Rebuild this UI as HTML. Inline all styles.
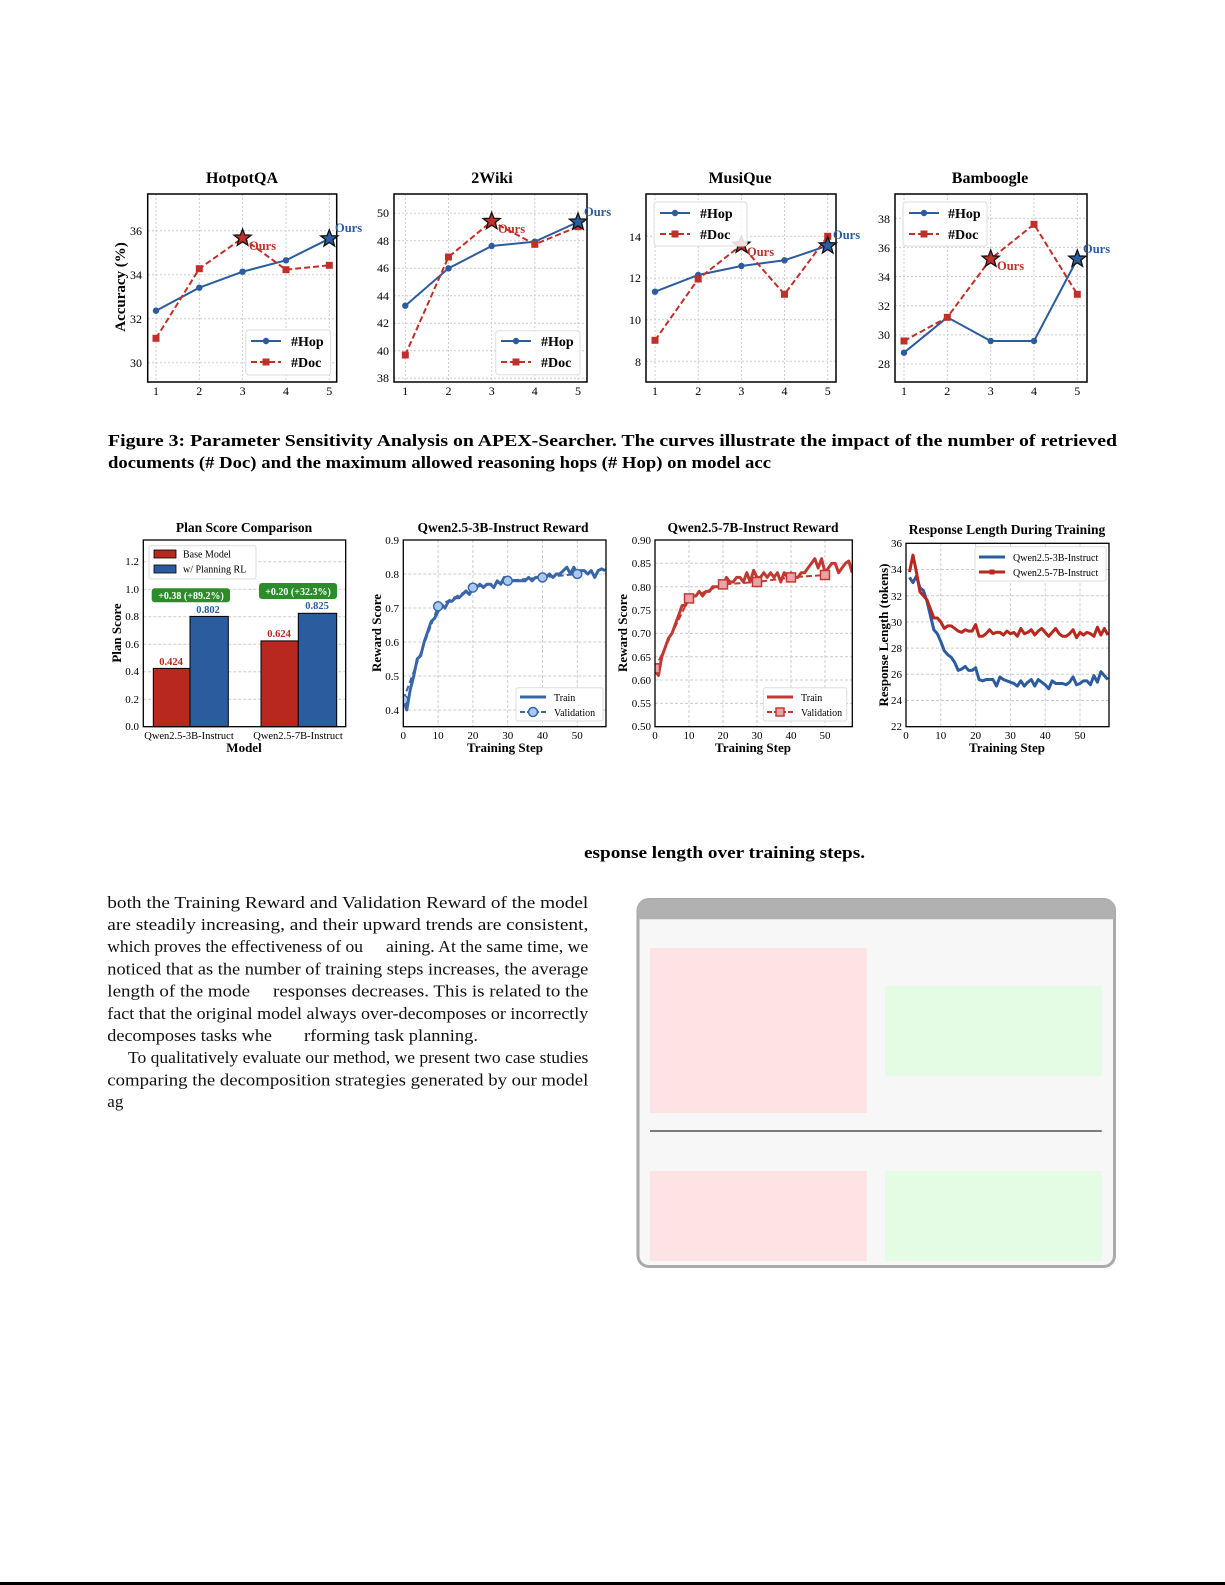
<!DOCTYPE html>
<html><head><meta charset="utf-8">
<style>
html,body{margin:0;padding:0;background:#fff;}
svg{display:block;}
text{font-family:"Liberation Serif",serif;}
</style></head>
<body>
<svg width="1225" height="1585" viewBox="0 0 1225 1585" xmlns="http://www.w3.org/2000/svg">
<defs>
<path id="star" d="M0,-9 L2.23,-3.07 L8.56,-2.78 L3.61,1.17 L5.29,7.28 L0,3.8 L-5.29,7.28 L-3.61,1.17 L-8.56,-2.78 L-2.23,-3.07Z"/>
<clipPath id="c3b"><rect x="403.3" y="540" width="203" height="186.7"/></clipPath>
<clipPath id="c7b"><rect x="655" y="540" width="197.3" height="186.7"/></clipPath>
<clipPath id="crl"><rect x="906" y="543.3" width="203" height="183.4"/></clipPath>
</defs>

<g font-size="12" fill="#000">
<text x="242" y="183" font-size="16" font-weight="bold" text-anchor="middle">HotpotQA</text>
<g stroke="#ccc" stroke-dasharray="2,2" stroke-width="1">
<line x1="156" y1="194" x2="156" y2="382"/><line x1="199.3" y1="194" x2="199.3" y2="382"/><line x1="242.6" y1="194" x2="242.6" y2="382"/><line x1="286" y1="194" x2="286" y2="382"/><line x1="329.3" y1="194" x2="329.3" y2="382"/>
<line x1="148" y1="362.7" x2="337" y2="362.7"/><line x1="148" y1="318.7" x2="337" y2="318.7"/><line x1="148" y1="274.7" x2="337" y2="274.7"/><line x1="148" y1="230.7" x2="337" y2="230.7"/>
</g>
<rect x="147.7" y="194" width="189" height="188" fill="none" stroke="#000" stroke-width="1.5"/>
<g text-anchor="end"><text x="142" y="367">30</text><text x="142" y="323">32</text><text x="142" y="279">34</text><text x="142" y="235">36</text></g>
<g text-anchor="middle"><text x="156" y="395">1</text><text x="199.3" y="395">2</text><text x="242.6" y="395">3</text><text x="286" y="395">4</text><text x="329.3" y="395">5</text></g>
<polyline points="156,310.7 199.3,287.7 242.6,271.7 286,260.3 329.3,238.7" fill="none" stroke="#2b5c9e" stroke-width="2"/>
<polyline points="156,338.3 199.3,268.7 242.6,238 286,269.7 329.3,265.3" fill="none" stroke="#c03028" stroke-width="2" stroke-dasharray="6,3"/>
<g fill="#2b5c9e"><circle cx="156" cy="310.7" r="3.2"/><circle cx="199.3" cy="287.7" r="3.2"/><circle cx="242.6" cy="271.7" r="3.2"/><circle cx="286" cy="260.3" r="3.2"/></g>
<g fill="#c03028"><rect x="152.5" y="334.8" width="7" height="7"/><rect x="195.8" y="265.2" width="7" height="7"/><rect x="282.5" y="266.2" width="7" height="7"/><rect x="325.8" y="261.8" width="7" height="7"/></g>
<use href="#star" x="242.6" y="238" fill="#c03028" stroke="#111" stroke-width="1.3"/>
<use href="#star" x="329.3" y="238.7" fill="#2b5c9e" stroke="#111" stroke-width="1.3"/>
<text x="249" y="250" font-weight="bold" fill="#c03028" font-size="12.5">Ours</text>
<text x="335" y="232" font-weight="bold" fill="#2b5c9e" font-size="12.5">Ours</text>
<rect x="245.7" y="330" width="85" height="45" rx="3" fill="#fff" fill-opacity="0.85" stroke="#ddd"/>
<line x1="251" y1="341" x2="281" y2="341" stroke="#2b5c9e" stroke-width="2"/><circle cx="266" cy="341" r="3.2" fill="#2b5c9e"/>
<line x1="251" y1="362" x2="281" y2="362" stroke="#c03028" stroke-width="2" stroke-dasharray="6,3"/><rect x="262.5" y="358.5" width="7" height="7" fill="#c03028"/>
<text x="291" y="346" font-weight="bold" font-size="14">#Hop</text><text x="291" y="367" font-weight="bold" font-size="14">#Doc</text>
<text transform="translate(125,287) rotate(-90)" text-anchor="middle" font-weight="bold" font-size="15">Accuracy (%)</text>

<text x="492" y="183" font-size="16" font-weight="bold" text-anchor="middle">2Wiki</text>
<g stroke="#ccc" stroke-dasharray="2,2" stroke-width="1">
<line x1="405.3" y1="194" x2="405.3" y2="382"/><line x1="448.5" y1="194" x2="448.5" y2="382"/><line x1="491.7" y1="194" x2="491.7" y2="382"/><line x1="534.8" y1="194" x2="534.8" y2="382"/><line x1="578" y1="194" x2="578" y2="382"/>
<line x1="394" y1="378.3" x2="587" y2="378.3"/><line x1="394" y1="350.8" x2="587" y2="350.8"/><line x1="394" y1="323.3" x2="587" y2="323.3"/><line x1="394" y1="295.8" x2="587" y2="295.8"/><line x1="394" y1="268.3" x2="587" y2="268.3"/><line x1="394" y1="240.8" x2="587" y2="240.8"/><line x1="394" y1="213.3" x2="587" y2="213.3"/>
</g>
<rect x="394" y="194" width="193" height="188" fill="none" stroke="#000" stroke-width="1.5"/>
<g text-anchor="end"><text x="389" y="382">38</text><text x="389" y="355">40</text><text x="389" y="327">42</text><text x="389" y="300">44</text><text x="389" y="272">46</text><text x="389" y="245">48</text><text x="389" y="217">50</text></g>
<g text-anchor="middle"><text x="405.3" y="395">1</text><text x="448.5" y="395">2</text><text x="491.7" y="395">3</text><text x="534.8" y="395">4</text><text x="578" y="395">5</text></g>
<polyline points="405.3,305.7 448.5,268.3 491.7,246 534.8,241.7 578,222" fill="none" stroke="#2b5c9e" stroke-width="2"/>
<polyline points="405.3,355 448.5,257 491.7,221.3 534.8,244.3 578,226.7" fill="none" stroke="#c03028" stroke-width="2" stroke-dasharray="6,3"/>
<g fill="#2b5c9e"><circle cx="405.3" cy="305.7" r="3.2"/><circle cx="448.5" cy="268.3" r="3.2"/><circle cx="491.7" cy="246" r="3.2"/><circle cx="534.8" cy="241.7" r="3.2"/></g>
<g fill="#c03028"><rect x="401.8" y="351.5" width="7" height="7"/><rect x="445" y="253.5" width="7" height="7"/><rect x="531.3" y="240.8" width="7" height="7"/><rect x="574.5" y="223.2" width="7" height="7"/></g>
<use href="#star" x="491.7" y="221.3" fill="#c03028" stroke="#111" stroke-width="1.3"/>
<use href="#star" x="578" y="222" fill="#2b5c9e" stroke="#111" stroke-width="1.3"/>
<text x="498" y="233" font-weight="bold" fill="#c03028" font-size="12.5">Ours</text>
<text x="584" y="216" font-weight="bold" fill="#2b5c9e" font-size="12.5">Ours</text>
<rect x="495.7" y="330.7" width="84.3" height="44" rx="3" fill="#fff" fill-opacity="0.85" stroke="#ddd"/>
<line x1="501" y1="341" x2="531" y2="341" stroke="#2b5c9e" stroke-width="2"/><circle cx="516" cy="341" r="3.2" fill="#2b5c9e"/>
<line x1="501" y1="362" x2="531" y2="362" stroke="#c03028" stroke-width="2" stroke-dasharray="6,3"/><rect x="512.5" y="358.5" width="7" height="7" fill="#c03028"/>
<text x="541" y="346" font-weight="bold" font-size="14">#Hop</text><text x="541" y="367" font-weight="bold" font-size="14">#Doc</text>

<text x="740" y="183" font-size="16" font-weight="bold" text-anchor="middle">MusiQue</text>
<g stroke="#ccc" stroke-dasharray="2,2" stroke-width="1">
<line x1="655" y1="194" x2="655" y2="382"/><line x1="698.2" y1="194" x2="698.2" y2="382"/><line x1="741.4" y1="194" x2="741.4" y2="382"/><line x1="784.5" y1="194" x2="784.5" y2="382"/><line x1="827.7" y1="194" x2="827.7" y2="382"/>
<line x1="646" y1="361.3" x2="836" y2="361.3"/><line x1="646" y1="319.7" x2="836" y2="319.7"/><line x1="646" y1="278" x2="836" y2="278"/><line x1="646" y1="236.3" x2="836" y2="236.3"/>
</g>
<rect x="646" y="194" width="190" height="188" fill="none" stroke="#000" stroke-width="1.5"/>
<g text-anchor="end"><text x="641" y="366">8</text><text x="641" y="324">10</text><text x="641" y="282">12</text><text x="641" y="241">14</text></g>
<g text-anchor="middle"><text x="655" y="395">1</text><text x="698.2" y="395">2</text><text x="741.4" y="395">3</text><text x="784.5" y="395">4</text><text x="827.7" y="395">5</text></g>
<polyline points="655,291.7 698.2,275 741.4,266 784.5,260.3 827.7,245.7" fill="none" stroke="#2b5c9e" stroke-width="2"/>
<polyline points="655,340.3 698.2,279 741.4,245 784.5,294.3 827.7,236.3" fill="none" stroke="#c03028" stroke-width="2" stroke-dasharray="6,3"/>
<g fill="#2b5c9e"><circle cx="655" cy="291.7" r="3.2"/><circle cx="698.2" cy="275" r="3.2"/><circle cx="741.4" cy="266" r="3.2"/><circle cx="784.5" cy="260.3" r="3.2"/></g>
<g fill="#c03028"><rect x="651.5" y="336.8" width="7" height="7"/><rect x="694.7" y="275.5" width="7" height="7"/><rect x="781" y="290.8" width="7" height="7"/><rect x="824.2" y="232.8" width="7" height="7"/></g>
<use href="#star" x="741.4" y="245" fill="#c03028" stroke="#111" stroke-width="1.3"/>
<use href="#star" x="827.7" y="245.7" fill="#2b5c9e" stroke="#111" stroke-width="1.3"/>
<text x="747" y="256" font-weight="bold" fill="#c03028" font-size="12.5">Ours</text>
<text x="833" y="239" font-weight="bold" fill="#2b5c9e" font-size="12.5">Ours</text>
<rect x="654" y="202" width="93" height="44" rx="3" fill="#fff" fill-opacity="0.85" stroke="#ddd"/>
<line x1="660" y1="213" x2="690" y2="213" stroke="#2b5c9e" stroke-width="2"/><circle cx="675" cy="213" r="3.2" fill="#2b5c9e"/>
<line x1="660" y1="234" x2="690" y2="234" stroke="#c03028" stroke-width="2" stroke-dasharray="6,3"/><rect x="671.5" y="230.5" width="7" height="7" fill="#c03028"/>
<text x="700" y="218" font-weight="bold" font-size="14">#Hop</text><text x="700" y="239" font-weight="bold" font-size="14">#Doc</text>

<text x="990" y="183" font-size="16" font-weight="bold" text-anchor="middle">Bamboogle</text>
<g stroke="#ccc" stroke-dasharray="2,2" stroke-width="1">
<line x1="904" y1="194" x2="904" y2="382"/><line x1="947.3" y1="194" x2="947.3" y2="382"/><line x1="990.7" y1="194" x2="990.7" y2="382"/><line x1="1034" y1="194" x2="1034" y2="382"/><line x1="1077.3" y1="194" x2="1077.3" y2="382"/>
<line x1="895" y1="364" x2="1087" y2="364"/><line x1="895" y1="334.9" x2="1087" y2="334.9"/><line x1="895" y1="305.7" x2="1087" y2="305.7"/><line x1="895" y1="276.6" x2="1087" y2="276.6"/><line x1="895" y1="247.4" x2="1087" y2="247.4"/><line x1="895" y1="218.3" x2="1087" y2="218.3"/>
</g>
<rect x="895" y="194" width="192" height="188" fill="none" stroke="#000" stroke-width="1.5"/>
<g text-anchor="end"><text x="890" y="368">28</text><text x="890" y="339">30</text><text x="890" y="310">32</text><text x="890" y="281">34</text><text x="890" y="252">36</text><text x="890" y="223">38</text></g>
<g text-anchor="middle"><text x="904" y="395">1</text><text x="947.3" y="395">2</text><text x="990.7" y="395">3</text><text x="1034" y="395">4</text><text x="1077.3" y="395">5</text></g>
<polyline points="904,352.7 947.3,317.3 990.7,341 1034,341 1077.3,259" fill="none" stroke="#2b5c9e" stroke-width="2"/>
<polyline points="904,341 947.3,317.3 990.7,259 1034,224.3 1077.3,294.3" fill="none" stroke="#c03028" stroke-width="2" stroke-dasharray="6,3"/>
<g fill="#2b5c9e"><circle cx="904" cy="352.7" r="3.2"/><circle cx="947.3" cy="317.3" r="3.2"/><circle cx="990.7" cy="341" r="3.2"/><circle cx="1034" cy="341" r="3.2"/></g>
<g fill="#c03028"><rect x="900.5" y="337.5" width="7" height="7"/><rect x="943.8" y="313.8" width="7" height="7"/><rect x="1030.5" y="220.8" width="7" height="7"/><rect x="1073.8" y="290.8" width="7" height="7"/></g>
<use href="#star" x="990.7" y="259" fill="#c03028" stroke="#111" stroke-width="1.3"/>
<use href="#star" x="1077.3" y="259" fill="#2b5c9e" stroke="#111" stroke-width="1.3"/>
<text x="997" y="270" font-weight="bold" fill="#c03028" font-size="12.5">Ours</text>
<text x="1083" y="253" font-weight="bold" fill="#2b5c9e" font-size="12.5">Ours</text>
<rect x="903" y="202" width="84" height="44" rx="3" fill="#fff" fill-opacity="0.85" stroke="#ddd"/>
<line x1="909" y1="213" x2="939" y2="213" stroke="#2b5c9e" stroke-width="2"/><circle cx="924" cy="213" r="3.2" fill="#2b5c9e"/>
<line x1="909" y1="234" x2="939" y2="234" stroke="#c03028" stroke-width="2" stroke-dasharray="6,3"/><rect x="920.5" y="230.5" width="7" height="7" fill="#c03028"/>
<text x="948" y="218" font-weight="bold" font-size="14">#Hop</text><text x="948" y="239" font-weight="bold" font-size="14">#Doc</text>
</g>

<g font-weight="bold" font-size="17">
<text x="108" y="446" textLength="1009" lengthAdjust="spacingAndGlyphs">Figure 3: Parameter Sensitivity Analysis on APEX-Searcher. The curves illustrate the impact of the number of retrieved</text>
<text x="108" y="468" textLength="663" lengthAdjust="spacingAndGlyphs">documents (# Doc) and the maximum allowed reasoning hops (# Hop) on model acc</text>
<text x="584" y="858" textLength="281" lengthAdjust="spacingAndGlyphs">esponse length over training steps.</text>
</g>

<g font-size="11" fill="#000">
<text x="244" y="532" font-size="13.5" font-weight="bold" text-anchor="middle">Plan Score Comparison</text>
<g stroke="#ccc" stroke-dasharray="3,2" stroke-width="1">
<line x1="143.3" y1="699.2" x2="345.7" y2="699.2"/><line x1="143.3" y1="671.7" x2="345.7" y2="671.7"/><line x1="143.3" y1="644.2" x2="345.7" y2="644.2"/><line x1="143.3" y1="616.7" x2="345.7" y2="616.7"/><line x1="143.3" y1="589.2" x2="345.7" y2="589.2"/><line x1="143.3" y1="561.7" x2="345.7" y2="561.7"/>
</g>
<rect x="153.3" y="668.4" width="36.7" height="58.3" fill="#b8281f" stroke="#000" stroke-width="1"/>
<rect x="190" y="616.4" width="38.3" height="110.3" fill="#2b5c9e" stroke="#000" stroke-width="1"/>
<rect x="261" y="640.9" width="37.3" height="85.8" fill="#b8281f" stroke="#000" stroke-width="1"/>
<rect x="298.3" y="613.3" width="38.4" height="113.4" fill="#2b5c9e" stroke="#000" stroke-width="1"/>
<rect x="143.3" y="540" width="202.4" height="186.7" fill="none" stroke="#000" stroke-width="1.3"/>
<g text-anchor="end"><text x="139" y="730">0.0</text><text x="139" y="703">0.2</text><text x="139" y="675">0.4</text><text x="139" y="648">0.6</text><text x="139" y="620">0.8</text><text x="139" y="593">1.0</text><text x="139" y="565">1.2</text></g>
<g font-weight="bold" text-anchor="middle" font-size="10.5">
<text x="171" y="665" fill="#b8281f">0.424</text><text x="208" y="613" fill="#2b5c9e">0.802</text>
<text x="279" y="637" fill="#b8281f">0.624</text><text x="317" y="609" fill="#2b5c9e">0.825</text>
</g>
<rect x="151.7" y="588.3" width="78.3" height="14" rx="3" fill="#2a8c2a"/>
<text x="191" y="599" fill="#fff" font-weight="bold" font-size="10" text-anchor="middle">+0.38 (+89.2%)</text>
<rect x="259" y="583" width="78" height="16" rx="3" fill="#2a8c2a"/>
<text x="298" y="595" fill="#fff" font-weight="bold" font-size="10" text-anchor="middle">+0.20 (+32.3%)</text>
<rect x="149" y="545.7" width="107" height="33.3" rx="2" fill="#fff" stroke="#ddd"/>
<rect x="154" y="550" width="22" height="8" fill="#b8281f" stroke="#000" stroke-width=".8"/><text x="183" y="557.5" font-size="10">Base Model</text>
<rect x="154" y="565" width="22" height="8" fill="#2b5c9e" stroke="#000" stroke-width=".8"/><text x="183" y="572.5" font-size="10">w/ Planning RL</text>
<text x="189" y="739" text-anchor="middle" font-size="10.5">Qwen2.5-3B-Instruct</text>
<text x="298" y="739" text-anchor="middle" font-size="10.5">Qwen2.5-7B-Instruct</text>
<text x="244" y="752" text-anchor="middle" font-size="13" font-weight="bold">Model</text>
<text transform="translate(121,633) rotate(-90)" text-anchor="middle" font-size="13" font-weight="bold">Plan Score</text>

<text x="503" y="532" font-size="13.5" font-weight="bold" text-anchor="middle">Qwen2.5-3B-Instruct Reward</text>
<g stroke="#ccc" stroke-dasharray="3,2" stroke-width="1">
<line x1="438.1" y1="540" x2="438.1" y2="726.7"/><line x1="472.9" y1="540" x2="472.9" y2="726.7"/><line x1="507.7" y1="540" x2="507.7" y2="726.7"/><line x1="542.5" y1="540" x2="542.5" y2="726.7"/><line x1="577.3" y1="540" x2="577.3" y2="726.7"/>
<line x1="403.3" y1="710" x2="606" y2="710"/><line x1="403.3" y1="676" x2="606" y2="676"/><line x1="403.3" y1="642" x2="606" y2="642"/><line x1="403.3" y1="608" x2="606" y2="608"/><line x1="403.3" y1="574" x2="606" y2="574"/>
</g>
<g clip-path="url(#c3b)">
<g transform="matrix(3.48 0 0 -340 403.3 846)">
<polyline vector-effect="non-scaling-stroke" fill="none" stroke="#3a66a8" stroke-width="3" stroke-linejoin="round" points="0,0.43 1,0.40 2,0.46 3,0.50 4,0.55 5,0.56 6,0.60 7,0.63 8,0.66 9,0.67 10,0.69 11,0.71 12,0.70 13,0.72 14,0.72 15,0.73 16,0.73 17,0.74 18,0.75 19,0.74 20,0.76 21,0.76 22,0.77 23,0.76 24,0.77 25,0.77 26,0.76 27,0.78 28,0.77 29,0.79 30,0.77 31,0.78 32,0.78 33,0.78 34,0.78 35,0.78 36,0.79 37,0.78 38,0.79 39,0.79 40,0.79 41,0.79 42,0.80 43,0.79 44,0.80 45,0.80 46,0.81 47,0.82 48,0.80 49,0.82 50,0.80 51,0.81 52,0.81 53,0.80 54,0.81 55,0.79 56,0.81 57,0.815 58,0.81"/>
</g>
<polyline fill="none" stroke="#3a66a8" stroke-width="2" stroke-dasharray="6,3" points="403.3,699.8 438.1,606.3 472.9,587.6 507.7,580.8 542.5,577.4 577.3,574"/>
<g fill="#a9c9ee" stroke="#3a66a8" stroke-width="1.5"><circle cx="403.3" cy="699.8" r="4.5"/><circle cx="438.1" cy="606.3" r="4.5"/><circle cx="472.9" cy="587.6" r="4.5"/><circle cx="507.7" cy="580.8" r="4.5"/><circle cx="542.5" cy="577.4" r="4.5"/><circle cx="577.3" cy="574" r="4.5"/></g>
</g>
<rect x="403.3" y="540" width="202.7" height="186.7" fill="none" stroke="#000" stroke-width="1.3"/>
<g text-anchor="end"><text x="399" y="714">0.4</text><text x="399" y="680">0.5</text><text x="399" y="646">0.6</text><text x="399" y="612">0.7</text><text x="399" y="578">0.8</text><text x="399" y="544">0.9</text></g>
<g text-anchor="middle"><text x="403.3" y="739">0</text><text x="438.1" y="739">10</text><text x="472.9" y="739">20</text><text x="507.7" y="739">30</text><text x="542.5" y="739">40</text><text x="577.3" y="739">50</text></g>
<rect x="516" y="687.7" width="87" height="33.3" rx="2" fill="#fff" stroke="#ddd"/>
<line x1="520" y1="697" x2="546" y2="697" stroke="#3a66a8" stroke-width="3"/><text x="554" y="701" font-size="10">Train</text>
<line x1="520" y1="712" x2="546" y2="712" stroke="#3a66a8" stroke-width="2" stroke-dasharray="5,2"/><circle cx="533" cy="712" r="4.5" fill="#a9c9ee" stroke="#3a66a8" stroke-width="1.5"/><text x="554" y="716" font-size="10">Validation</text>
<text x="505" y="752" text-anchor="middle" font-size="13" font-weight="bold">Training Step</text>
<text transform="translate(381,633) rotate(-90)" text-anchor="middle" font-size="13" font-weight="bold">Reward Score</text>

<text x="753" y="532" font-size="13.5" font-weight="bold" text-anchor="middle">Qwen2.5-7B-Instruct Reward</text>
<g stroke="#ccc" stroke-dasharray="3,2" stroke-width="1">
<line x1="689" y1="540" x2="689" y2="726.7"/><line x1="723" y1="540" x2="723" y2="726.7"/><line x1="757" y1="540" x2="757" y2="726.7"/><line x1="791" y1="540" x2="791" y2="726.7"/><line x1="825" y1="540" x2="825" y2="726.7"/>
<line x1="655" y1="703.4" x2="852.3" y2="703.4"/><line x1="655" y1="680" x2="852.3" y2="680"/><line x1="655" y1="656.7" x2="852.3" y2="656.7"/><line x1="655" y1="633.4" x2="852.3" y2="633.4"/><line x1="655" y1="610" x2="852.3" y2="610"/><line x1="655" y1="586.7" x2="852.3" y2="586.7"/><line x1="655" y1="563.3" x2="852.3" y2="563.3"/>
</g>
<g clip-path="url(#c7b)">
<g transform="matrix(3.4 0 0 -466.75 655 960.1)">
<polyline vector-effect="non-scaling-stroke" fill="none" stroke="#c03a33" stroke-width="3" stroke-linejoin="round" points="0,0.62 1,0.61 2,0.65 3,0.67 4,0.69 5,0.70 6,0.72 7,0.74 8,0.76 9,0.76 10,0.78 11,0.78 12,0.78 13,0.79 14,0.78 15,0.79 16,0.79 17,0.80 18,0.80 19,0.80 20,0.80 21,0.82 22,0.81 23,0.81 24,0.82 25,0.82 26,0.81 27,0.83 28,0.81 29,0.835 30,0.82 31,0.82 32,0.83 33,0.82 34,0.83 35,0.82 36,0.83 37,0.81 38,0.83 39,0.82 40,0.83 41,0.82 42,0.82 43,0.83 44,0.83 45,0.84 46,0.85 47,0.86 48,0.84 49,0.86 50,0.83 51,0.84 52,0.85 53,0.85 54,0.83 55,0.84 56,0.85 57,0.855 58,0.83"/>
</g>
<polyline fill="none" stroke="#c03a33" stroke-width="2" stroke-dasharray="6,3" points="655,668.4 689,598.4 723,584.4 757,582 791,577.4 825,575"/>
<g fill="#eaa3a6" stroke="#c03a33" stroke-width="1.5"><rect x="650.5" y="663.9" width="9" height="9"/><rect x="684.5" y="593.9" width="9" height="9"/><rect x="718.5" y="579.9" width="9" height="9"/><rect x="752.5" y="577.5" width="9" height="9"/><rect x="786.5" y="572.9" width="9" height="9"/><rect x="820.5" y="570.5" width="9" height="9"/></g>
</g>
<rect x="655" y="540" width="197.3" height="186.7" fill="none" stroke="#000" stroke-width="1.3"/>
<g text-anchor="end"><text x="651" y="730">0.50</text><text x="651" y="707">0.55</text><text x="651" y="684">0.60</text><text x="651" y="661">0.65</text><text x="651" y="637">0.70</text><text x="651" y="614">0.75</text><text x="651" y="591">0.80</text><text x="651" y="567">0.85</text><text x="651" y="544">0.90</text></g>
<g text-anchor="middle"><text x="655" y="739">0</text><text x="689" y="739">10</text><text x="723" y="739">20</text><text x="757" y="739">30</text><text x="791" y="739">40</text><text x="825" y="739">50</text></g>
<rect x="763.3" y="687.7" width="83.4" height="33.3" rx="2" fill="#fff" stroke="#ddd"/>
<line x1="767" y1="697" x2="793" y2="697" stroke="#c03a33" stroke-width="3"/><text x="801" y="701" font-size="10">Train</text>
<line x1="767" y1="712" x2="793" y2="712" stroke="#c03a33" stroke-width="2" stroke-dasharray="5,2"/><rect x="776" y="708" width="8" height="8" fill="#eaa3a6" stroke="#c03a33" stroke-width="1.5"/><text x="801" y="716" font-size="10">Validation</text>
<text x="753" y="752" text-anchor="middle" font-size="13" font-weight="bold">Training Step</text>
<text transform="translate(627,633) rotate(-90)" text-anchor="middle" font-size="13" font-weight="bold">Reward Score</text>

<text x="1007" y="534" font-size="13.5" font-weight="bold" text-anchor="middle">Response Length During Training</text>
<g stroke="#ccc" stroke-dasharray="3,2" stroke-width="1">
<line x1="940.8" y1="543.3" x2="940.8" y2="726.7"/><line x1="975.6" y1="543.3" x2="975.6" y2="726.7"/><line x1="1010.4" y1="543.3" x2="1010.4" y2="726.7"/><line x1="1045.2" y1="543.3" x2="1045.2" y2="726.7"/><line x1="1080" y1="543.3" x2="1080" y2="726.7"/>
<line x1="906" y1="700.5" x2="1109" y2="700.5"/><line x1="906" y1="674.3" x2="1109" y2="674.3"/><line x1="906" y1="648.1" x2="1109" y2="648.1"/><line x1="906" y1="621.9" x2="1109" y2="621.9"/><line x1="906" y1="595.7" x2="1109" y2="595.7"/><line x1="906" y1="569.5" x2="1109" y2="569.5"/>
</g>
<g clip-path="url(#crl)">
<g transform="matrix(3.48 0 0 -13.1 906 1014.9)">
<polyline vector-effect="non-scaling-stroke" fill="none" stroke="#2b5c9e" stroke-width="3" stroke-linejoin="round" points="1,33.4 2,33.0 3,33.5 4,32.6 5,32.4 6,31.6 7,30.5 8,29.4 9,29.1 10,28.5 11,27.8 12,27.5 13,27.3 14,26.9 15,26.3 16,26.4 17,26.6 18,26.3 19,26.3 20,26.5 21,25.6 22,25.5 23,25.6 24,25.6 25,25.6 26,25.1 27,25.8 28,25.6 29,25.5 30,25.4 31,25.3 32,25.1 33,25.5 34,25.1 35,25.4 36,25.6 37,25.1 38,25.6 39,25.4 40,25.2 41,24.9 42,25.5 43,25.3 44,25.3 45,25.3 46,25.2 47,25.4 48,25.8 49,25.2 50,25.3 51,25.5 52,25.5 53,25.2 54,25.9 55,25.4 56,26.2 57,25.9 58,25.6"/>
<polyline vector-effect="non-scaling-stroke" fill="none" stroke="#b8281f" stroke-width="3" stroke-linejoin="round" points="1,33.8 2,35.1 3,33.8 4,32.3 5,32.0 6,31.7 7,31.0 8,30.3 9,30.3 10,30.0 11,29.5 12,29.7 13,29.7 14,29.5 15,29.3 16,29.2 17,29.4 18,29.3 19,29.3 20,29.8 21,28.9 22,28.9 23,29.1 24,29.4 25,29.1 26,29.2 27,29.2 28,29.0 29,29.3 30,29.1 31,29.2 32,28.9 33,29.5 34,29.1 35,29.2 36,29.4 37,29.0 38,29.3 39,29.5 40,29.2 41,28.9 42,29.2 43,29.5 44,29.1 45,28.9 46,28.9 47,29.1 48,29.4 49,28.8 50,29.2 51,29.0 52,29.2 53,29.1 54,28.9 55,29.6 56,29.0 57,29.5 58,29.0"/>
</g>
</g>
<rect x="906" y="543.3" width="203" height="183.4" fill="none" stroke="#000" stroke-width="1.3"/>
<g text-anchor="end"><text x="902" y="730">22</text><text x="902" y="704">24</text><text x="902" y="678">26</text><text x="902" y="652">28</text><text x="902" y="626">30</text><text x="902" y="600">32</text><text x="902" y="573">34</text><text x="902" y="547">36</text></g>
<g text-anchor="middle"><text x="906" y="739">0</text><text x="940.8" y="739">10</text><text x="975.6" y="739">20</text><text x="1010.4" y="739">30</text><text x="1045.2" y="739">40</text><text x="1080" y="739">50</text></g>
<rect x="975" y="546.7" width="131" height="34.3" rx="2" fill="#fff" stroke="#ddd"/>
<line x1="979" y1="557" x2="1005" y2="557" stroke="#2b5c9e" stroke-width="3"/><text x="1013" y="561" font-size="10">Qwen2.5-3B-Instruct</text>
<line x1="979" y1="572" x2="1005" y2="572" stroke="#b8281f" stroke-width="3"/><rect x="989.5" y="569.5" width="5" height="5" fill="#b8281f"/><text x="1013" y="576" font-size="10">Qwen2.5-7B-Instruct</text>
<text x="1007" y="752" text-anchor="middle" font-size="13" font-weight="bold">Training Step</text>
<text transform="translate(888,635) rotate(-90)" text-anchor="middle" font-size="13" font-weight="bold">Response Length (tokens)</text>
</g>

<g font-size="17" fill="#111">
<text x="107.3" y="908" textLength="481" lengthAdjust="spacingAndGlyphs">both the Training Reward and Validation Reward of the model</text>
<text x="107.3" y="930" textLength="481" lengthAdjust="spacingAndGlyphs">are steadily increasing, and their upward trends are consistent,</text>
<text x="107.3" y="952" textLength="255.7" lengthAdjust="spacingAndGlyphs">which proves the effectiveness of ou</text>
<text x="386" y="952" textLength="202.3" lengthAdjust="spacingAndGlyphs">aining. At the same time, we</text>
<text x="107.3" y="974.5" textLength="481" lengthAdjust="spacingAndGlyphs">noticed that as the number of training steps increases, the average</text>
<text x="107.3" y="996.7" textLength="142.7" lengthAdjust="spacingAndGlyphs">length of the mode</text>
<text x="273" y="996.7" textLength="315.3" lengthAdjust="spacingAndGlyphs">responses decreases. This is related to the</text>
<text x="107.3" y="1019" textLength="481" lengthAdjust="spacingAndGlyphs">fact that the original model always over-decomposes or incorrectly</text>
<text x="107.3" y="1041" textLength="164.7" lengthAdjust="spacingAndGlyphs">decomposes tasks whe</text>
<text x="304" y="1041" textLength="174" lengthAdjust="spacingAndGlyphs">rforming task planning.</text>
<text x="128" y="1063" textLength="460.3" lengthAdjust="spacingAndGlyphs">To qualitatively evaluate our method, we present two case studies</text>
<text x="107.3" y="1085.5" textLength="481" lengthAdjust="spacingAndGlyphs">comparing the decomposition strategies generated by our model</text>
<text x="107.3" y="1107">ag</text>
</g>

<rect x="638" y="899.5" width="476.5" height="367" rx="11" fill="#f7f7f7" stroke="#aaa" stroke-width="3"/>
<path d="M638,919.3 L638,910.5 Q638,899.5 649,899.5 L1103.5,899.5 Q1114.5,899.5 1114.5,910.5 L1114.5,919.3 Z" fill="#b1b1b1"/>
<rect x="650" y="948" width="216.7" height="165" fill="#fde3e3"/>
<rect x="885" y="986" width="216.7" height="90" fill="#e4fce4"/>
<line x1="650" y1="1131" x2="1101.7" y2="1131" stroke="#000" stroke-width="1"/>
<rect x="650" y="1171" width="216.7" height="90" fill="#fde3e3"/>
<rect x="885" y="1171" width="216.7" height="90" fill="#e4fce4"/>

<rect x="0" y="1582" width="1225" height="3" fill="#000"/>
</svg>
</body></html>
